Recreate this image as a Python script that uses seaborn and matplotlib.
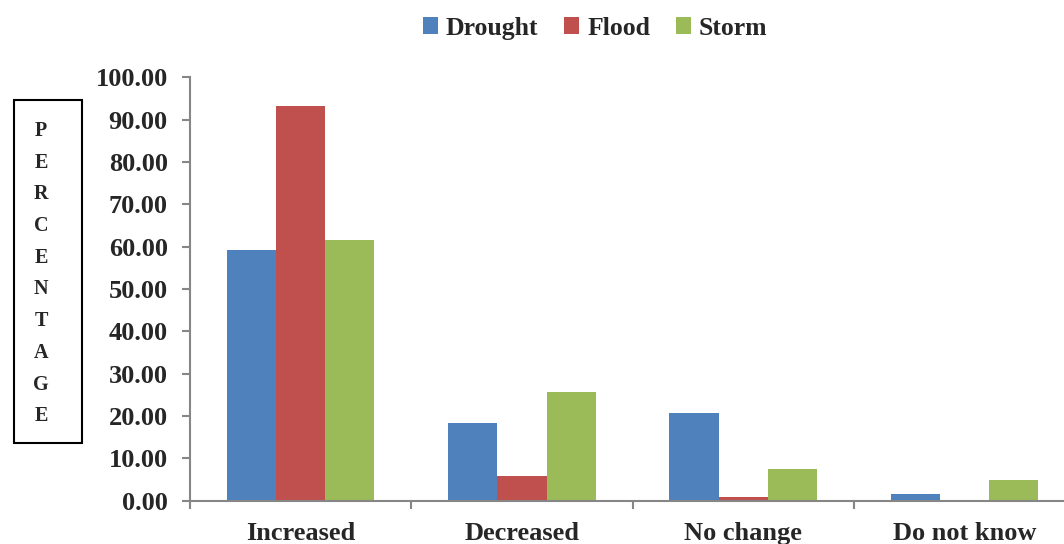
import matplotlib
matplotlib.use("Agg")
import matplotlib.pyplot as plt
from matplotlib.patches import Rectangle, Patch
from matplotlib.ticker import FixedLocator, FuncFormatter
import seaborn as sns
import pandas as pd

# Survey responses: perceived change in hazard frequency (%)
categories = ["Increased", "Decreased", "No change", "Do not know"]
drought = [59.1, 18.3, 20.7, 1.6]
flood = [93.2, 5.8, 0.8, 0.0]
storm = [61.5, 25.7, 7.4, 5.0]
hazards = ["Drought", "Flood", "Storm"]
colors = ["#4F81BD", "#C0504D", "#9BBB59"]

rows = []
for hazard, values in zip(hazards, [drought, flood, storm]):
    for cat, v in zip(categories, values):
        rows.append({"Response": cat, "Hazard": hazard, "Percentage": v})
df = pd.DataFrame(rows)

sns.set_theme(style="white")
plt.rcParams["font.family"] = ["Liberation Serif", "DejaVu Serif"]
plt.rcParams["font.weight"] = "bold"

fig = plt.figure(figsize=(10.64, 5.44), dpi=100)
ax = fig.add_axes([190 / 1064, 1 - 500.7 / 544, 1 - 190 / 1064, (500.7 - 77.3) / 544])

sns.barplot(data=df, x="Response", y="Percentage", hue="Hazard",
            order=categories, hue_order=hazards, palette=colors,
            width=0.667, gap=0, saturation=1, linewidth=0, ax=ax, legend=False)

ax.set_ylim(0, 100)
ax.set_xlim(-0.5, 3.449)
ax.set_xlabel("")
ax.set_ylabel("")

axis_grey = "#868686"
for side in ["top", "right"]:
    ax.spines[side].set_visible(False)
for side in ["left", "bottom"]:
    ax.spines[side].set_color(axis_grey)
    ax.spines[side].set_linewidth(1.5)

ax.set_yticks(range(0, 101, 10))
ax.yaxis.set_major_formatter(FuncFormatter(lambda v, _: f"{v:.2f}"))
ax.tick_params(axis="y", which="major", direction="out", length=6, width=1.5,
               color=axis_grey, pad=10, labelsize=19, left=True)
for lbl in ax.get_yticklabels():
    lbl.set_fontweight("bold")

ax.set_xticks(range(len(categories)))
ax.set_xticklabels(categories, fontsize=19, fontweight="bold")
ax.tick_params(axis="x", which="major", length=0, pad=15)
ax.xaxis.set_minor_locator(FixedLocator([-0.5, 0.5, 1.5, 2.5]))
ax.tick_params(axis="x", which="minor", direction="out", length=6, width=1.5,
               color=axis_grey, bottom=True)

# Legend across the top
handles = [Patch(facecolor=c, edgecolor="none") for c in colors]
fig.legend(handles, hazards, loc="center", bbox_to_anchor=(595 / 1064, 1 - 28 / 544),
           ncol=3, frameon=False, handlelength=0.6, handleheight=0.6,
           handletextpad=0.3, columnspacing=1.0,
           prop={"family": "Liberation Serif", "weight": "bold", "size": 18.5})

# Vertical stacked axis title inside a box
fig.patches.append(Rectangle((14 / 1064, 1 - 443 / 544), (82 - 14) / 1064, (443 - 100) / 544,
                             transform=fig.transFigure, fill=False,
                             edgecolor="black", linewidth=1.5))
fig.text(41 / 1064, 1 - 121 / 544, "\n".join("PERCENTAGE"), ha="center", va="top",
         fontsize=14.5, fontweight="bold", linespacing=1.78)

fig.savefig("out.png", dpi=100)
